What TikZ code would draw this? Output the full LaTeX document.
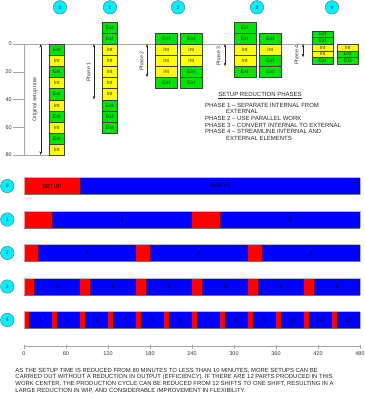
\documentclass[tikz,border=0pt]{standalone}
\usepackage{fontspec}
\setmainfont{Liberation Sans}
\usetikzlibrary{arrows.meta}
\definecolor{eg}{RGB}{0,228,0}
\definecolor{iy}{RGB}{255,255,0}
\definecolor{cy}{RGB}{0,240,255}
\definecolor{rb}{RGB}{255,0,0}
\definecolor{bb}{RGB}{0,0,255}
\newcommand\blkstack[6]{%
  \foreach \s/\l [count=\i from 0] in {#6} {%
    \node[\s, minimum width=#4, minimum height=#5] (#1-\i) at (#2,{#3+\i*#5}) {\l};}}
\newcommand\prodbar[5]{% name, top, cycles, cycle length, setup
  \fill[bb] (24,#2) rectangle (360,#2+17);
  \foreach \c in {1,...,#3} {%
    \pgfmathsetmacro\xa{24+0.7*(\c-1)*#4}
    \pgfmathsetmacro\xb{\xa+0.7*#5}
    \pgfmathsetmacro\xm{(\xb+24+0.7*\c*#4)/2}
    \fill[rb] (\xa,#2) rectangle (\xb,#2+17);
    \draw[red!45!black, line width=0.4pt] (\xb,#2) -- (\xb,#2+17);
    \node[barlbl] (#1-\c) at (\xm,#2+8.5) {\c};}
  \draw[gray!55, line width=0.8pt] (24,#2) -- (360,#2);
  \draw[black!55, line width=0.6pt] (24,#2+17) -- (360,#2+17);
  \draw[gray!60, line width=0.4pt] (24,#2) -- (24,#2+17) (360,#2) -- (360,#2+17);
}
\begin{document}
\begin{tikzpicture}[x=1pt,y=-1pt,
  blk/.style={draw=black!75, line width=0.4pt, inner sep=0pt, anchor=north west,
    font=\fontsize{5.2}{5.2}\selectfont, text=black!80},
  extb/.style={blk, fill=eg},
  intb/.style={blk, fill=iy},
  circ/.style={circle, draw=black!60, line width=0.4pt, fill=cy, minimum size=13.5pt,
    inner sep=0pt, font=\fontsize{5}{5}\selectfont, text=black!80},
  dim/.style={{Stealth[length=3.5pt,width=2.4pt]}-{Stealth[length=3.5pt,width=2.4pt]},
    line width=0.4pt, black!85},
  axl/.style={font=\fontsize{5.5}{5.5}\selectfont, text=black!80, inner sep=0.5pt},
  phl/.style={font=\fontsize{5.3}{5.3}\selectfont, text=black!80, rotate=90, inner sep=0.5pt},
  barlbl/.style={font=\fontsize{5.8}{5.8}\selectfont, text=black, inner sep=0pt},
  txt/.style={font=\fontsize{5.9}{6}\selectfont, text=black!85, anchor=west, inner sep=0pt},
  gl/.style={gray!70, line width=0.5pt}]
\useasboundingbox (0,0) rectangle (365,400);
\fill[white] (0,0) rectangle (365,400);

% top left axis
\draw[gl] (13,44) -- (312,44);
\draw[gl] (24,44) -- (24,155);
\draw[gl] (13,71.75) -- (24,71.75);
\draw[gl] (13,99.5) -- (24,99.5);
\draw[gl] (13,127.25) -- (24,127.25);
\draw[gl] (13,155) -- (49,155);
\node[axl, anchor=east] (y0) at (12.5,44) {0};
\node[axl, anchor=east] (y20) at (12.5,71.75) {20};
\node[axl, anchor=east] (y40) at (12.5,99.5) {40};
\node[axl, anchor=east] (y60) at (12.5,127.25) {60};
\node[axl, anchor=east] (y80) at (12.5,155) {80};

% stacks
\blkstack{s0}{49}{44}{15}{11.1}{extb/Ext,intb/Int,extb/Ext,intb/Int,extb/Ext,intb/Int,extb/Ext,intb/Int,extb/Ext,intb/Int}
\blkstack{s1}{102}{21.8}{15}{11.1}{extb/Ext,extb/Ext,intb/Int,intb/Int,intb/Int,intb/Int,intb/Int,extb/Ext,extb/Ext,extb/Ext}
\blkstack{s2a}{155}{32.9}{22}{11.1}{extb/Ext,intb/Int,intb/Int,intb/Int,extb/Ext}
\blkstack{s2b}{180}{32.9}{22}{11.1}{extb/Ext,intb/Int,intb/Int,extb/Ext,extb/Ext}
\blkstack{s3a}{233.5}{21.8}{22}{11.1}{extb/Ext,extb/Ext,intb/Int,intb/Int,extb/Ext}
\blkstack{s3b}{259}{32.9}{22}{11.1}{extb/Ext,intb/Int,extb/Ext,extb/Ext}
\blkstack{s4a}{312}{30.7}{20.5}{6.65}{extb/Ext,extb/Ext,intb/Int,intb/Int,extb/Ext}
\blkstack{s4b}{337}{44}{21}{6.65}{intb/Int,extb/Ext,extb/Ext}

% top circles
\node[circ] (c0) at (60,7.3) {0};
\node[circ] (c1) at (110,7.3) {1};
\node[circ] (c2) at (178,7.3) {2};
\node[circ] (c3) at (257,7.3) {3};
\node[circ] (c4) at (332,7.3) {4};

% dimension arrows
\coordinate (o1) at (40.7,44); \coordinate (o2) at (40.7,155);
\draw[dim] (o1) -- (o2);
\node[phl] (ol) at (35,99.5) {Original setup time};
\coordinate (p1a) at (94,44); \coordinate (p1b) at (94,99.5);
\draw[dim] (p1a) -- (p1b);
\node[phl] (p1l) at (88.5,72) {Phase 1};
\coordinate (p2a) at (147,44); \coordinate (p2b) at (147,77.3);
\draw[dim] (p2a) -- (p2b);
\node[phl] (p2l) at (141.5,61) {Phase 2};
\coordinate (p3a) at (225,44); \coordinate (p3b) at (225,66.2);
\draw[dim] (p3a) -- (p3b);
\node[phl] (p3l) at (218.5,56) {Phase 3};
\coordinate (p4a) at (303,44); \coordinate (p4b) at (303,57.3);
\draw[dim] (p4a) -- (p4b);
\node[phl] (p4l) at (296.5,55) {Phase 4};

% phases text
\node[font=\fontsize{6}{6}\selectfont, text=black!85, inner sep=0pt] (title) at (260,95.7) {\underline{SETUP REDUCTION PHASES}};
\node[txt, font=\fontsize{6}{6}\selectfont] (ph1) at (205,105) {PHASE 1 – SEPARATE INTERNAL FROM};
\node[txt, font=\fontsize{6}{6}\selectfont] (ph1b) at (226,111.7) {EXTERNAL};
\node[txt, font=\fontsize{6}{6}\selectfont] (ph2) at (205,118.3) {PHASE 2 – USE PARALLEL WORK};
\node[txt, font=\fontsize{6}{6}\selectfont] (ph3) at (205,125) {PHASE 3 – CONVERT INTERNAL TO EXTERNAL};
\node[txt, font=\fontsize{6}{6}\selectfont] (ph4) at (205,131.7) {PHASE 4 – STREAMLINE INTERNAL AND};
\node[txt, font=\fontsize{6}{6}\selectfont] (ph4b) at (226,138.3) {EXTERNAL ELEMENTS};

% bars
\fill[bb] (24,177.5) rectangle (360,194.5);
\fill[rb] (24,177.5) rectangle (80,194.5);
\draw[red!45!black, line width=0.4pt] (80,177.5) -- (80,194.5);
\draw[gray!55, line width=0.8pt] (24,177.5) -- (360,177.5);
\draw[black!55, line width=0.6pt] (24,194.5) -- (360,194.5);
\draw[gray!60, line width=0.4pt] (24,177.5) -- (24,194.5) (360,177.5) -- (360,194.5);
\node[barlbl] (b0-s) at (52,186) {SETUP};
\node[barlbl] (b0-r) at (220,186) {RUN \#1};
\prodbar{b1}{211}{2}{240}{40}
\prodbar{b2}{244.5}{3}{160}{20}
\prodbar{b3}{278}{6}{80}{15}
\prodbar{b4}{311.5}{12}{40}{7.5}

\node[circ] (r0) at (7.3,186) {0};
\node[circ] (r1) at (7.3,219.5) {1};
\node[circ] (r2) at (7.3,253) {2};
\node[circ] (r3) at (7.3,286.5) {3};
\node[circ] (r4) at (7.3,320) {4};

% bottom axis
\draw[gl] (24,346.7) -- (360,346.7);
\foreach \t [count=\k from 0] in {0,60,120,180,240,300,360,420,480} {
  \draw[gl] ({24+0.7*\t},344.5) -- ({24+0.7*\t},349);
  \node[axl] (t\k) at ({24+0.7*\t},354) {\t};
}

% bottom text
\node[txt] (n1) at (15.3,370.7) {AS THE SETUP TIME IS REDUCED FROM 80 MINUTES TO LESS THAN 10 MINUTES, MORE SETUPS CAN BE};
\node[txt] (n2) at (15.3,377.3) {CARRIED OUT WITHOUT A REDUCTION IN OUTPUT (EFFICIENCY). IF THERE ARE 12 PARTS PRODUCED IN THIS};
\node[txt] (n3) at (15.3,384) {WORK CENTER, THE PRODUCTION CYCLE CAN BE REDUCED FROM 12 SHIFTS TO ONE SHIFT, RESULTING IN A};
\node[txt] (n4) at (15.3,390.7) {LARGE REDUCTION IN WIP, AND CONSIDERABLE IMPROVEMENT IN FLEXIBILITY.};
\end{tikzpicture}
\end{document}
